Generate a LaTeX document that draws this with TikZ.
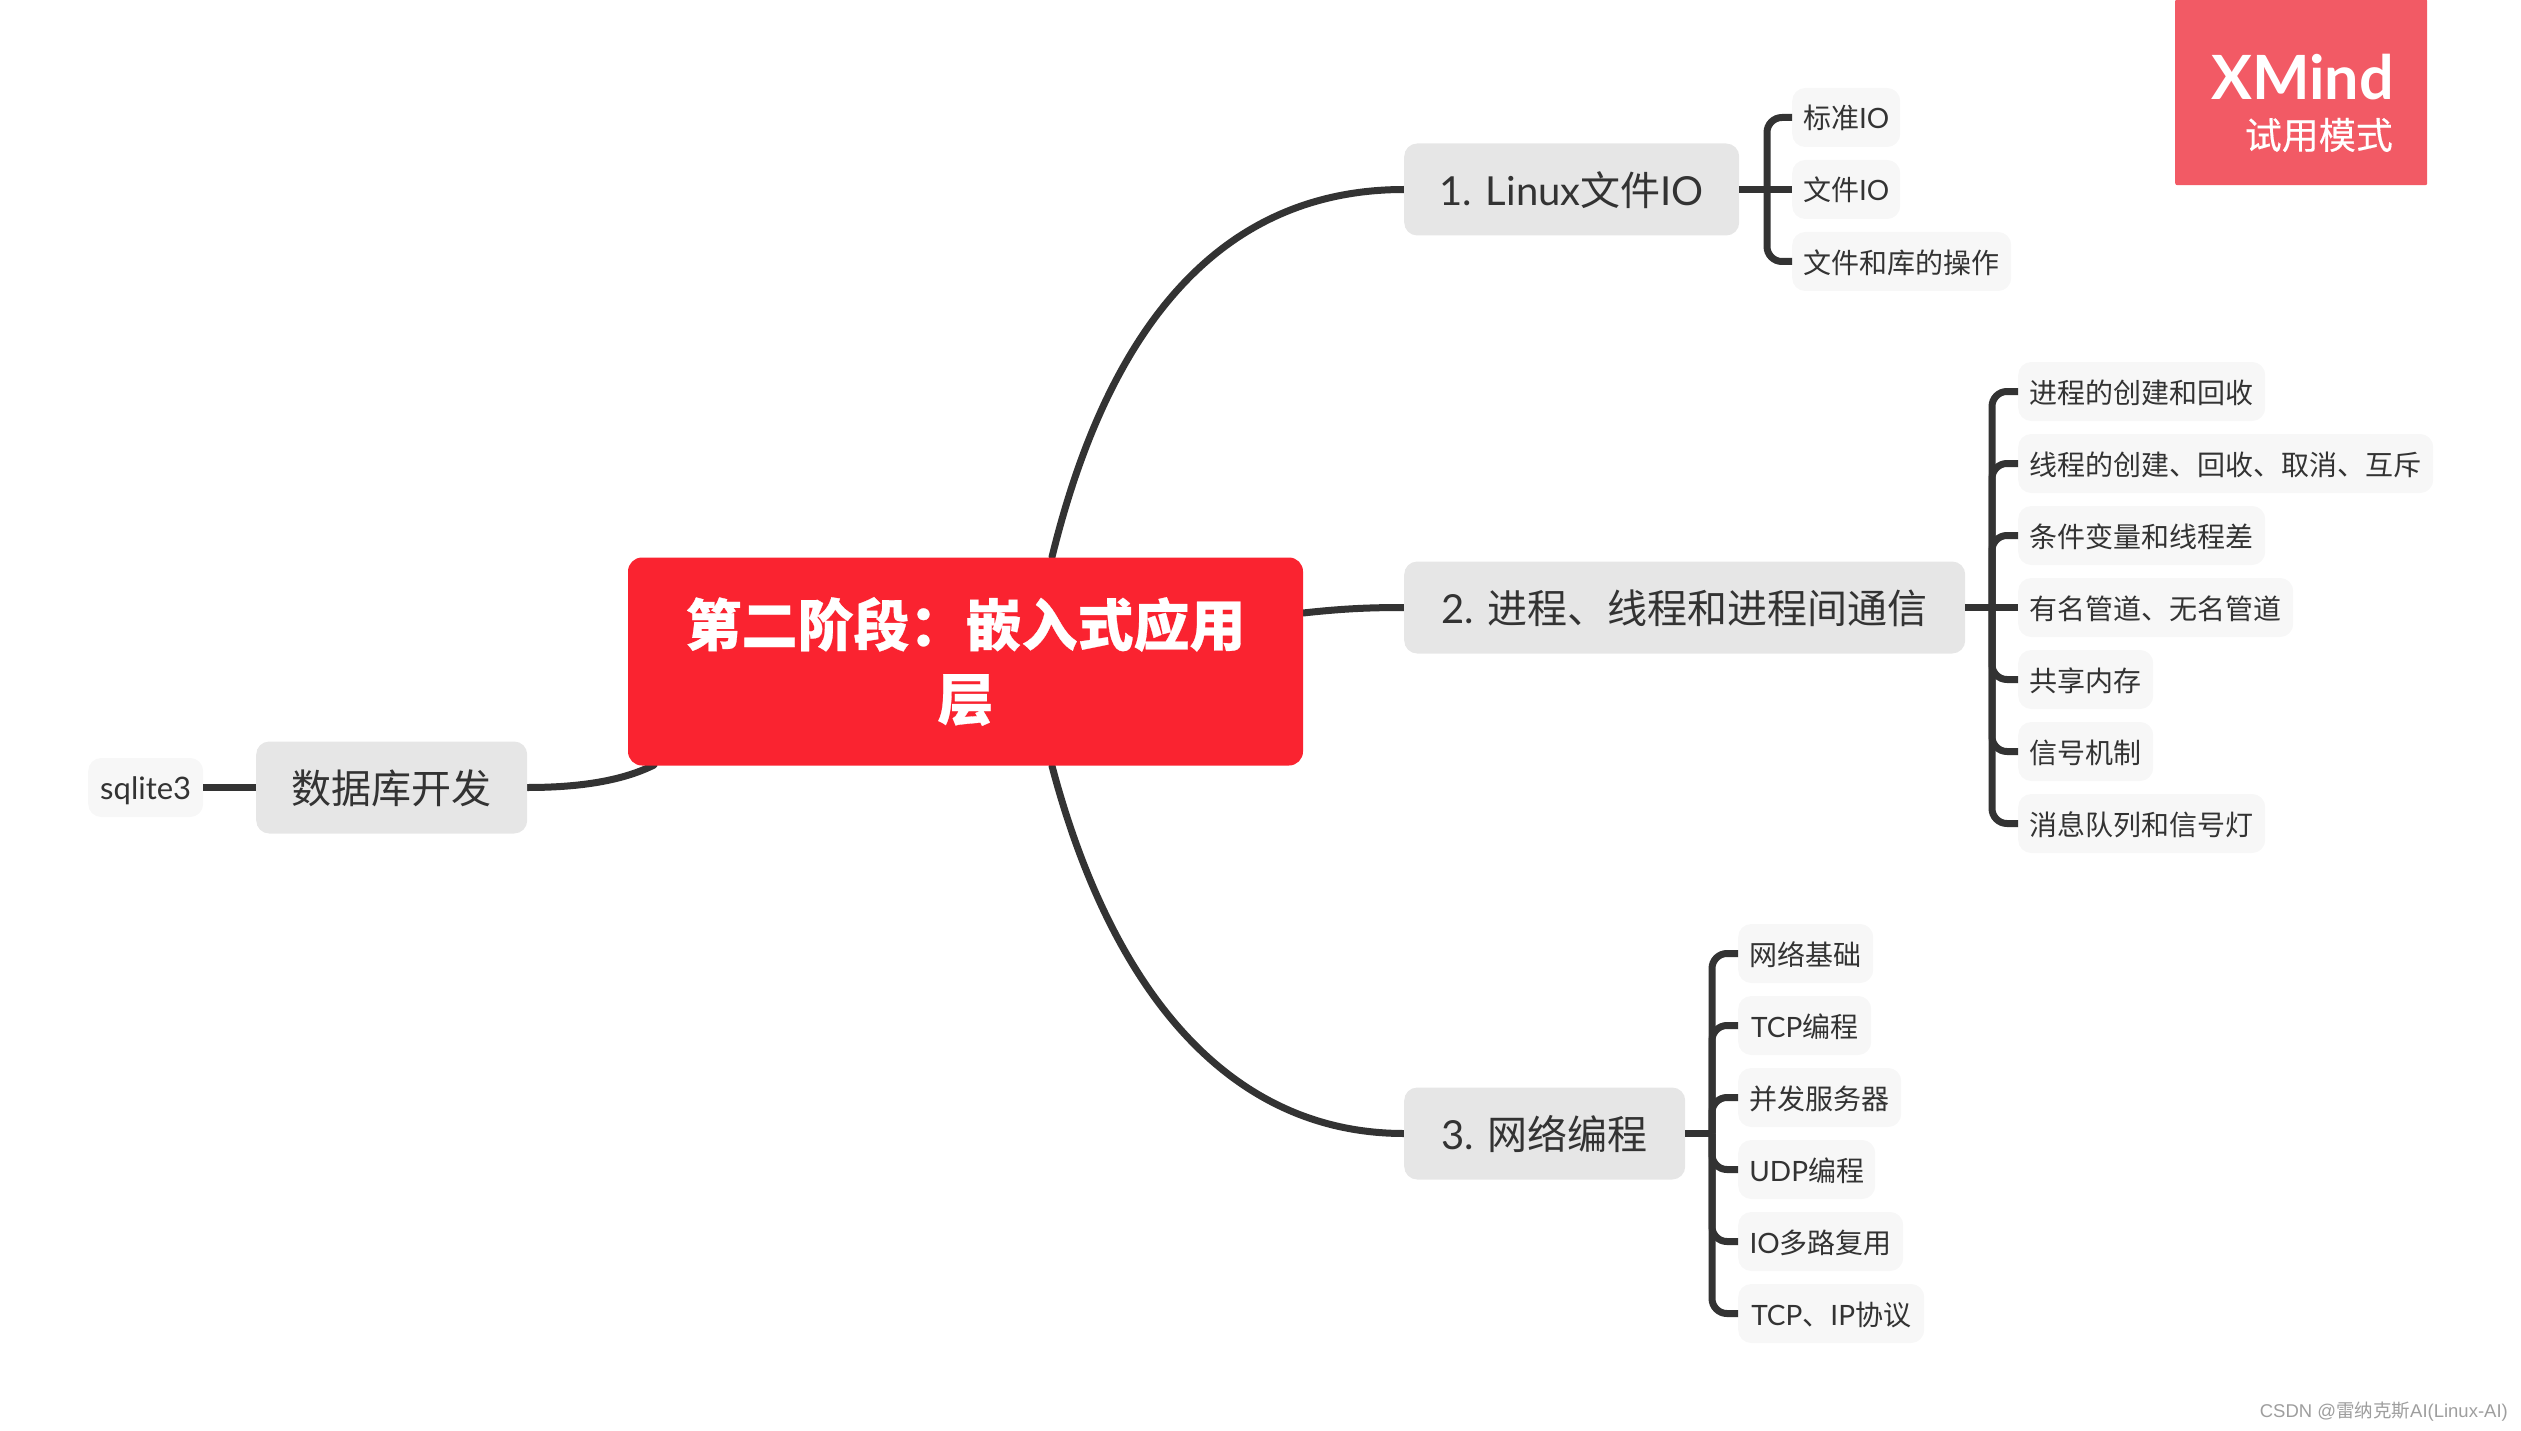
\documentclass[tikz,border=0pt]{standalone}
\usepackage{fontspec}
\usetikzlibrary{backgrounds}
\setmainfont{Lato}
\newfontfamily\cjk[BoldFeatures={FakeBold=0.5}]{Noto Sans CJK SC}
\newfontfamily\cjkmed[FakeBold=0.3]{Noto Sans CJK SC}
\newfontfamily\wmfont{Liberation Sans}
\definecolor{ink}{HTML}{333333}
\definecolor{rootred}{HTML}{FA2330}
\definecolor{topicgray}{HTML}{E6E6E6}
\definecolor{subgray}{HTML}{F7F7F7}
\definecolor{logored}{HTML}{F25A65}
\tikzset{
  x=1pt,y=-1pt,
  root/.style={draw=none,fill=rootred,rounded corners=14pt,inner sep=0pt,minimum width=675pt,minimum height=208pt,text=white,align=center,font=\cjk\bfseries\fontsize{56}{74}\selectfont},
  topic/.style={draw=none,fill=topicgray,rounded corners=13pt,inner sep=0pt,minimum height=92pt,text height=36pt,text depth=4pt,text=ink,anchor=west,font=\fontsize{40}{48}\selectfont},
  sub/.style={draw=none,fill=subgray,rounded corners=13pt,inner sep=0pt,minimum height=59pt,text height=27pt,text depth=4pt,text=ink,anchor=west,font=\fontsize{28}{34}\selectfont},
  conn/.style={draw=ink,line width=7pt,line cap=butt},
  curveconn/.style={conn,line cap=round},
  branch/.style={conn,rounded corners=15pt},
}
\begin{document}
\begin{tikzpicture}
\useasboundingbox (0,0) rectangle (2521,1431);
% root
\node[root] (root) at (965.5,661.5) {第二阶段：嵌入式应用\\层};
% topics
\node[topic,minimum width=335pt] (t1) at (1404,189.5) {1. Linux{\cjk 文件}IO};
\node[topic,minimum width=561pt] (t2) at (1404,607.5) {2. {\cjk 进程、线程和进程间通信}};
\node[topic,minimum width=281pt] (t3) at (1404,1133.5) {3. {\cjk 网络编程}};
\node[topic,minimum width=271pt] (t4) at (256,787.5) {\cjk 数据库开发};
% subtopics of 1
\node[sub,minimum width=108pt] (a1) at (1792,117.5) {{\cjk 标准}IO};
\node[sub,minimum width=108pt] (a2) at (1792,189.5) {{\cjk 文件}IO};
\node[sub,minimum width=219pt] (a3) at (1792,261.5) {\cjk 文件和库的操作};
% subtopics of 2
\node[sub,minimum width=247pt] (b1) at (2018,391.5) {\cjk 进程的创建和回收};
\node[sub,minimum width=415pt] (b2) at (2018,463.5) {\cjk 线程的创建、回收、取消、互斥};
\node[sub,minimum width=247pt] (b3) at (2018,535.5) {\cjk 条件变量和线程差};
\node[sub,minimum width=275pt] (b4) at (2018,607.5) {\cjk 有名管道、无名管道};
\node[sub,minimum width=135pt] (b5) at (2018,679.5) {\cjk 共享内存};
\node[sub,minimum width=135pt] (b6) at (2018,751.5) {\cjk 信号机制};
\node[sub,minimum width=247pt] (b7) at (2018,823.5) {\cjk 消息队列和信号灯};
% subtopics of 3
\node[sub,minimum width=135pt] (c1) at (1738,953.5) {\cjk 网络基础};
\node[sub,minimum width=133pt] (c2) at (1738,1025.5) {TCP{\cjk 编程}};
\node[sub,minimum width=163pt] (c3) at (1738,1097.5) {\cjk 并发服务器};
\node[sub,minimum width=137pt] (c4) at (1738,1169.5) {UDP{\cjk 编程}};
\node[sub,minimum width=165pt] (c5) at (1738,1241.5) {IO{\cjk 多路复用}};
\node[sub,minimum width=186pt] (c6) at (1738,1313.5) {TCP{\cjk 、}IP{\cjk 协议}};
% subtopic of 4
\node[sub,minimum width=115pt,font=\fontsize{31}{36}\selectfont] (d1) at (88,787.5) {sqlite3};
% logo
\node[draw=none,fill=logored,rounded corners=2pt,minimum width=252pt,minimum height=186pt,inner sep=0pt,anchor=north west] (logo) at (2175,-1) {};
\node[text=white,anchor=east,inner sep=0pt,font=\bfseries\fontsize{61}{63}\selectfont] (logotitle) at (2394,77) {XMind};
\node[text=white,anchor=east,inner sep=0pt,font=\cjkmed\fontsize{37}{44}\selectfont] (logotext) at (2393,135) {试用模式};
% watermark
\node[text=black!38,anchor=east,inner sep=0pt,font=\wmfont\fontsize{18.5}{22}\selectfont] (wm) at (2508,1412) {CSDN @{\cjk 雷纳克斯}AI(Linux-AI)};
% spine anchors
\coordinate (sa) at (1767,189.5);
\coordinate (sb) at (1992,607.5);
\coordinate (sc) at (1712,1133.5);
% root-attached ends
\coordinate (r1) at (1052,557);
\coordinate (r2) at (1303,613);
\coordinate (r3) at (1052,766);
\coordinate (r4) at (654,765);
\begin{scope}[on background layer]
\draw[curveconn] (r1) .. controls (1110,320) and (1225,189.5) .. (t1.west);
\draw[curveconn] (r2) .. controls (1340,609) and (1365,607.5) .. (t2.west);
\draw[curveconn] (r3) .. controls (1110,985) and (1225,1133.5) .. (t3.west);
\draw[curveconn] (r4) .. controls (620,782) and (575,787.5) .. (t4.east);
\end{scope}
\draw[conn] (d1.east) -- (t4.west);
\draw[conn] (t1.east) -- (a2.west);
\draw[branch] (sa) |- (a1.west);
\draw[branch] (sa) |- (a3.west);
\draw[conn] (t2.east) -- (b4.west);
\draw[branch] (sb) |- (b1.west);
\draw[branch] (sb) |- (b2.west);
\draw[branch] (sb) |- (b3.west);
\draw[branch] (sb) |- (b5.west);
\draw[branch] (sb) |- (b6.west);
\draw[branch] (sb) |- (b7.west);
\draw[conn] (t3.east) -- (sc);
\draw[branch] (sc) |- (c1.west);
\draw[branch] (sc) |- (c2.west);
\draw[branch] (sc) |- (c3.west);
\draw[branch] (sc) |- (c4.west);
\draw[branch] (sc) |- (c5.west);
\draw[branch] (sc) |- (c6.west);
\end{tikzpicture}
\end{document}
